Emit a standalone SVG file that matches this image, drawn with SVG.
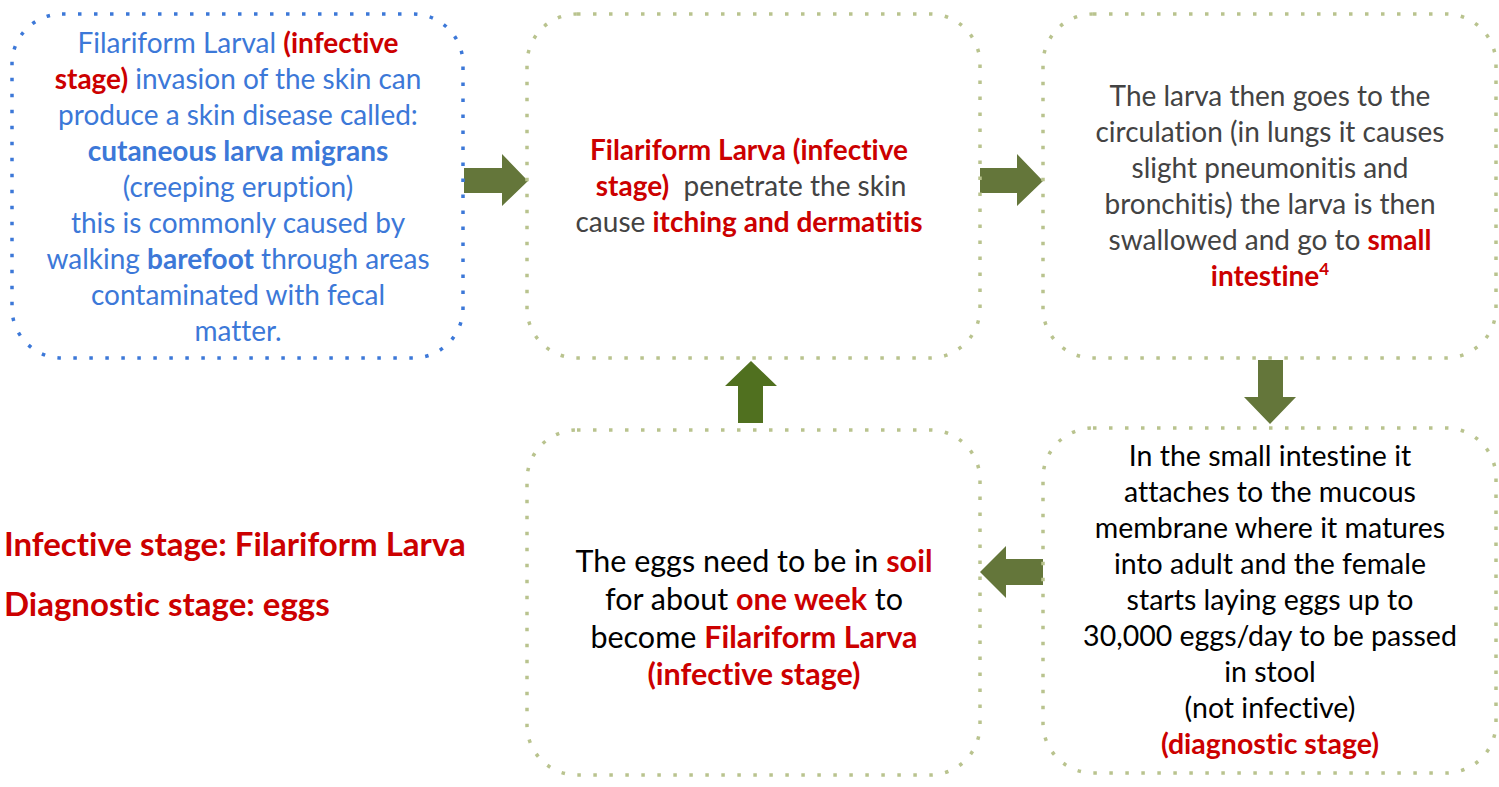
<svg xmlns="http://www.w3.org/2000/svg" width="1499" height="787" viewBox="0 0 1499 787">
<style>
text{font-family:Lato,"Open Sans","Liberation Sans",sans-serif;text-anchor:middle;font-variant-ligatures:none}
.box{fill:none;stroke-width:3.5;stroke-dasharray:3.5 12.5}
.g{stroke:#b9c38e}
.bl{stroke:#3c78d8}
.t1{font-size:28px;fill:#3c78d8}
.t2{font-size:28px;fill:#434343}
.t4{font-size:28.5px;fill:#000}
.t5{font-size:30.5px;fill:#000}
.r{fill:#cc0000;font-weight:bold}
.b{font-weight:bold}
.arr{fill:#64763a}
.up{fill:#50701f}
.lab{font-size:33px;fill:#cc0000;font-weight:bold;text-anchor:start}
</style>
<rect width="1499" height="787" fill="#fff"/>
<g id="connectors">
<polygon class="arr" points="464,168 502,168 502,154 528,181 502,206 502,193 464,193"/>
<polygon class="arr" points="980,168 1017,168 1017,154 1043,181 1017,206 1017,193 980,193"/>
<polygon class="arr" points="1258,360 1283,360 1283,397 1296,397 1270,424 1244,397 1258,397"/>
<polygon class="arr" points="1043,559 1006,559 1006,546 980,572 1006,598 1006,585 1043,585"/>
<polygon class="up" points="738,423 763,423 763,386 777,386 751,361 725,386 738,386"/>
</g>
<g id="node1">
<rect class="box bl" x="12" y="14" width="451" height="344" rx="50"/>
<text class="t1" x="238" y="53">Filariform Larval <tspan class="r">(infective</tspan></text>
<text class="t1" x="238" y="89"><tspan class="r">stage)</tspan> invasion of the skin can</text>
<text class="t1" x="238" y="125">produce a skin disease called:</text>
<text class="t1 b" x="238" y="161">cutaneous larva migrans</text>
<text class="t1" x="238" y="197">(creeping eruption)</text>
<text class="t1" x="238" y="233">this is commonly caused by</text>
<text class="t1" x="238" y="269">walking <tspan class="b">barefoot</tspan> through areas</text>
<text class="t1" x="238" y="305">contaminated with fecal</text>
<text class="t1" x="238" y="341">matter.</text>
</g>
<g id="node2">
<rect class="box g" x="527" y="14" width="453" height="344" rx="50"/>
<text class="t2" x="749" y="160"><tspan class="r">Filariform Larva (infective</tspan></text>
<text class="t2" x="751" y="196"><tspan class="r">stage)</tspan>&#160; penetrate the skin</text>
<text class="t2" x="749" y="232">cause <tspan class="r">itching and dermatitis</tspan></text>
</g>
<g id="node3">
<rect class="box g" x="1043" y="14" width="453" height="344" rx="50"/>
<text class="t2" x="1270" y="106">The larva then goes to the</text>
<text class="t2" x="1270" y="142">circulation (in lungs it causes</text>
<text class="t2" x="1270" y="178">slight pneumonitis and</text>
<text class="t2" x="1270" y="214">bronchitis) the larva is then</text>
<text class="t2" x="1270" y="250">swallowed and go to <tspan class="r">small</tspan></text>
<text class="t2" x="1270" y="286"><tspan class="r">intestine</tspan><tspan class="r" font-size="17" dy="-11">4</tspan></text>
</g>
<g id="node4">
<rect class="box g" x="1043" y="428" width="453" height="345" rx="50"/>
<text class="t4" x="1270" y="466">In the small intestine it</text>
<text class="t4" x="1270" y="502">attaches to the mucous</text>
<text class="t4" x="1270" y="538">membrane where it matures</text>
<text class="t4" x="1270" y="574">into adult and the female</text>
<text class="t4" x="1270" y="610">starts laying eggs up to</text>
<text class="t4" x="1270" y="646">30,000 eggs/day to be passed</text>
<text class="t4" x="1270" y="682">in stool</text>
<text class="t4" x="1270" y="718">(not infective)</text>
<text class="t4" x="1270" y="754"><tspan class="r">(diagnostic stage)</tspan></text>
</g>
<g id="node5">
<rect class="box g" x="527" y="430" width="453" height="345" rx="50"/>
<text class="t5" x="754" y="572">The eggs need to be in <tspan class="r">soil</tspan></text>
<text class="t5" x="754" y="610">for about <tspan class="r">one week</tspan> to</text>
<text class="t5" x="754" y="648">become <tspan class="r">Filariform Larva</tspan></text>
<text class="t5" x="754" y="685"><tspan class="r">(infective stage)</tspan></text>
</g>
<g id="labels">
<text class="lab" x="4" y="556">Infective stage: Filariform Larva</text>
<text class="lab" x="4" y="616">Diagnostic stage: eggs</text>
</g>
</svg>
